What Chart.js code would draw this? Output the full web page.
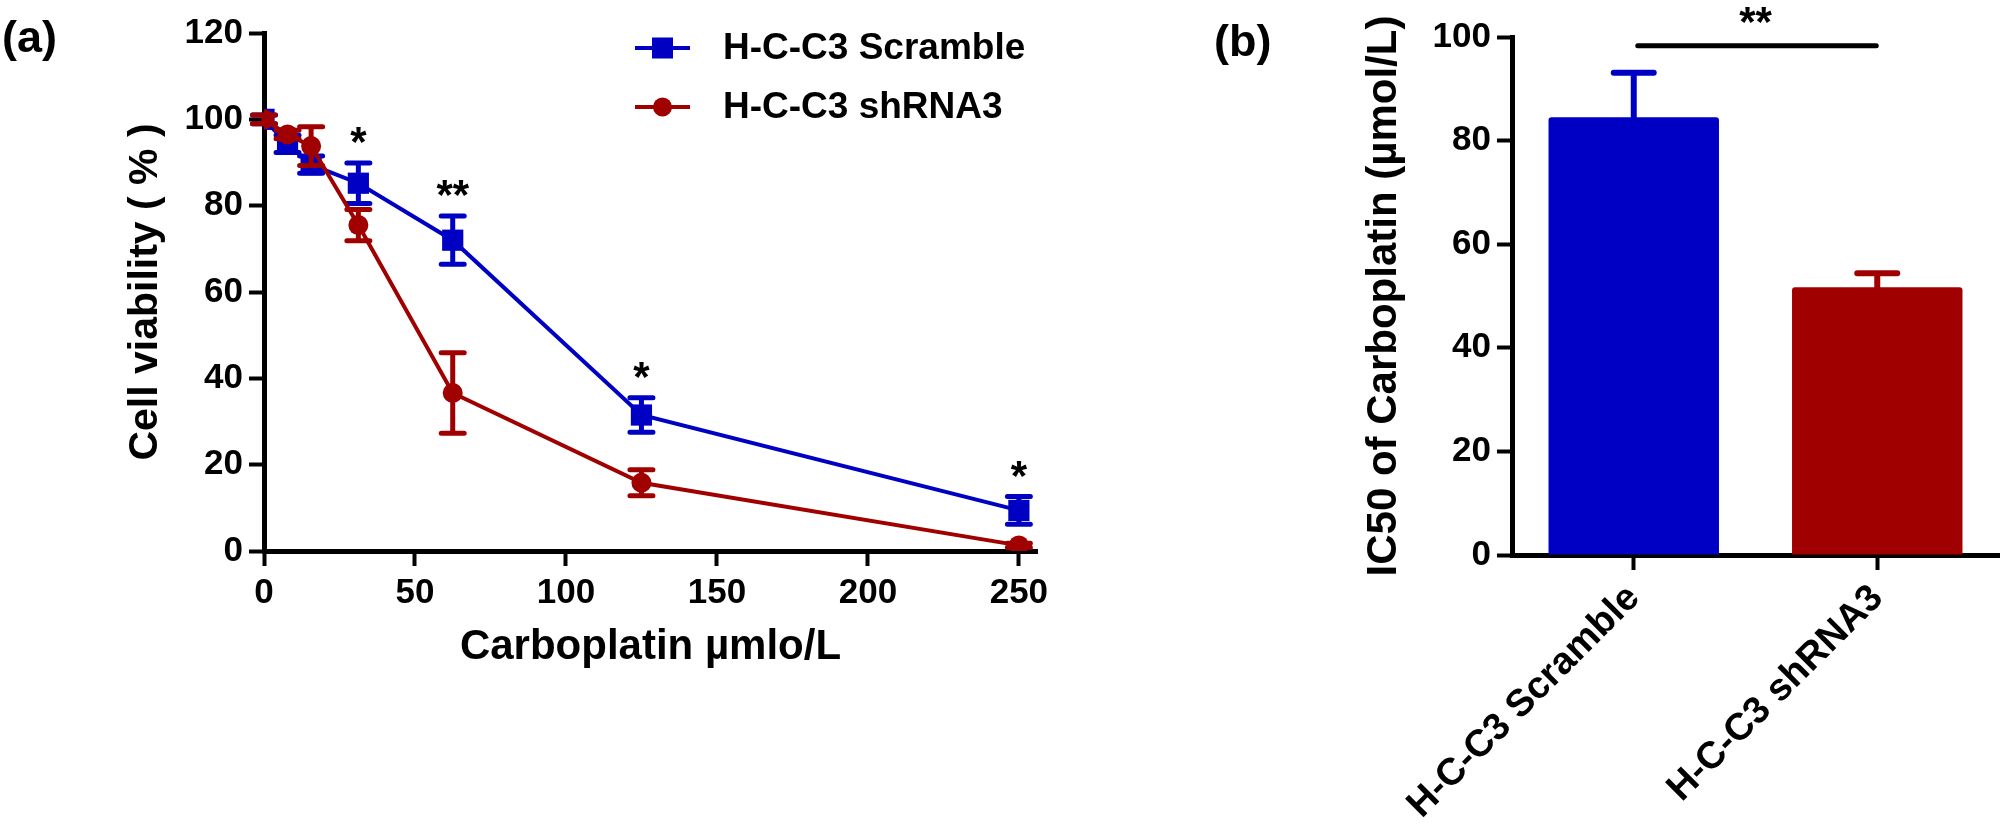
<!DOCTYPE html>
<html>
<head>
<meta charset="utf-8">
<script src="https://cdn.jsdelivr.net/npm/chart.js@4.4.1/dist/chart.umd.min.js"></script>
<style>
  html, body { margin: 0; padding: 0; background: #fff; }
  #wrap { position: relative; width: 2008px; height: 837px; }
  #chartA { position: absolute; left: 0; top: 0; }
  #chartB { position: absolute; left: 1100px; top: 0; }
</style>
</head>
<body>
<div id="wrap">
  <canvas id="chartA" width="1100" height="837"></canvas>
  <canvas id="chartB" width="908" height="837"></canvas>
</div>
<script>
// panel (a) - viability curve
const doses = [0, 7.8, 15.6, 31.25, 62.5, 125, 250]
const scrambleMean = [100, 94.3, 89.5, 85.2, 72, 31.5, 9.4]
const scrambleErr = [1, 2, 2, 4.7, 5.6, 4, 3.2]
const shrnaMean = [100, 96.5, 93.8, 75.5, 36.6, 15.8, 1.3]
const shrnaErr = [1, 1, 4.5, 3.6, 9.3, 3, 0.5]
const stars = ['', '', '', '*', '**', '*', '*']
const xTicksA = [0, 50, 100, 150, 200, 250]
const yTicksA = [0, 20, 40, 60, 80, 100, 120]

// panel (b) - IC50 bars
const groups = ['H-C-C3 Scramble', 'H-C-C3 shRNA3']
const ic50Mean = [84.5, 51.7]
const ic50Err = [8.6, 2.7]
const yTicksB = [0, 20, 40, 60, 80, 100]
const sigLineValue = 98.3

const BLUE = '#0000C4'
const RED = '#A00000'
const FONT = "'Liberation Sans', Arial, Helvetica, sans-serif"

Chart.defaults.font.family = FONT
Chart.defaults.font.weight = 'bold'
Chart.defaults.color = '#000'

const axisStyle = {
  border: { color: '#000', width: 5 },
  grid: { drawOnChartArea: false, drawTicks: true, tickLength: 15, tickWidth: 4, tickColor: '#000', offset: false }
}

// error bars for the line chart, drawn right after each dataset
const errorBarsA = {
  id: 'errorBarsA',
  afterDatasetDraw(chart, args) {
    const errs = [scrambleErr, shrnaErr][args.index]
    const means = [scrambleMean, shrnaMean][args.index]
    const color = [BLUE, RED][args.index]
    const { ctx, scales: { x, y } } = chart
    ctx.save()
    ctx.strokeStyle = color
    ctx.lineWidth = 5
    ctx.lineCap = 'round'
    doses.forEach((d, i) => {
      const px = x.getPixelForValue(d)
      const top = y.getPixelForValue(means[i] + errs[i])
      const bot = y.getPixelForValue(means[i] - errs[i])
      ctx.beginPath()
      ctx.moveTo(px, top); ctx.lineTo(px, bot)
      ctx.moveTo(px - 11.5, top); ctx.lineTo(px + 11.5, top)
      ctx.moveTo(px - 11.5, bot); ctx.lineTo(px + 11.5, bot)
      ctx.stroke()
    })
    ctx.restore()
  }
}

const decorA = {
  id: 'decorA',
  afterDraw(chart) {
    const { ctx, scales: { x, y } } = chart
    ctx.save()
    ctx.fillStyle = '#000'
    ctx.textAlign = 'center'
    ctx.textBaseline = 'alphabetic'
    ctx.font = 'bold 42px ' + FONT
    doses.forEach((d, i) => {
      if (!stars[i]) return
      const cy = y.getPixelForValue(scrambleMean[i] + scrambleErr[i]) - 31
      ctx.fillText(stars[i], x.getPixelForValue(d), cy + 24)
    })

    // legend
    const items = [
      { label: 'H-C-C3 Scramble', color: BLUE, shape: 'rect', y: 48 },
      { label: 'H-C-C3 shRNA3', color: RED, shape: 'circle', y: 107 }
    ]
    ctx.font = 'bold 37px ' + FONT
    ctx.textAlign = 'left'
    ctx.textBaseline = 'middle'
    items.forEach(it => {
      ctx.strokeStyle = it.color
      ctx.fillStyle = it.color
      ctx.lineWidth = 4
      ctx.beginPath()
      ctx.moveTo(635, it.y); ctx.lineTo(690, it.y)
      ctx.stroke()
      if (it.shape === 'rect') {
        ctx.fillRect(652, it.y - 10.5, 21, 21)
      } else {
        ctx.beginPath()
        ctx.arc(662.5, it.y, 9.5, 0, Math.PI * 2)
        ctx.fill()
      }
      ctx.fillStyle = '#000'
      ctx.fillText(it.label, 723, it.y + 1)
    })

    ctx.font = 'bold 45px ' + FONT
    ctx.textBaseline = 'alphabetic'
    ctx.fillText('(a)', 2, 52)
    ctx.restore()
  }
}

new Chart(document.getElementById('chartA'), {
  type: 'scatter',
  data: {
    datasets: [
      {
        label: 'H-C-C3 Scramble',
        data: doses.map((d, i) => ({ x: d, y: scrambleMean[i] })),
        showLine: true,
        borderColor: BLUE,
        backgroundColor: BLUE,
        borderWidth: 4,
        pointStyle: 'rect',
        pointRadius: 15,
        pointBorderWidth: 0,
        order: 1
      },
      {
        label: 'H-C-C3 shRNA3',
        data: doses.map((d, i) => ({ x: d, y: shrnaMean[i] })),
        showLine: true,
        borderColor: RED,
        backgroundColor: RED,
        borderWidth: 4,
        pointStyle: 'circle',
        pointRadius: 10,
        pointBorderWidth: 0,
        order: 0
      }
    ]
  },
  options: {
    responsive: false,
    animation: false,
    layout: { padding: { top: 33, left: 0, right: 63, bottom: 0 } },
    plugins: { legend: { display: false }, tooltip: { enabled: false } },
    scales: {
      x: {
        type: 'linear',
        min: 0,
        max: 256,
        ...axisStyle,
        afterBuildTicks: s => { s.ticks = xTicksA.map(v => ({ value: v })) },
        afterFit: s => { s.height = 286 },
        ticks: { font: { size: 35, weight: 'bold' }, padding: 6, maxRotation: 0 },
        title: { display: true, text: 'Carboplatin µmlo/L', font: { size: 42, weight: 'bold' }, padding: { top: 0, bottom: 164 } }
      },
      y: {
        min: 0,
        max: 120,
        ...axisStyle,
        afterBuildTicks: s => { s.ticks = yTicksA.map(v => ({ value: v })) },
        afterFit: s => { s.width = 264 },
        ticks: { font: { size: 35, weight: 'bold' }, padding: 6 },
        title: { display: true, text: 'Cell viability ( % )', font: { size: 41, weight: 'bold' }, padding: { top: 121, bottom: 0 } }
      }
    }
  },
  plugins: [errorBarsA, decorA]
})

const decorB = {
  id: 'decorB',
  afterDatasetsDraw(chart) {
    const { ctx, scales: { x, y } } = chart
    ctx.save()
    ctx.lineCap = 'round'
    ctx.lineWidth = 6
    groups.forEach((g, i) => {
      const px = x.getPixelForValue(i)
      const top = y.getPixelForValue(ic50Mean[i] + ic50Err[i])
      const base = y.getPixelForValue(ic50Mean[i])
      ctx.strokeStyle = [BLUE, RED][i]
      ctx.beginPath()
      ctx.moveTo(px, base); ctx.lineTo(px, top)
      ctx.moveTo(px - 20, top); ctx.lineTo(px + 20, top)
      ctx.stroke()
    })
    // significance bracket
    const ly = y.getPixelForValue(sigLineValue)
    const x0 = x.getPixelForValue(0)
    const x1 = x.getPixelForValue(1)
    ctx.strokeStyle = '#000'
    ctx.lineWidth = 5
    ctx.beginPath()
    ctx.moveTo(x0 + 4, ly); ctx.lineTo(x1 - 1, ly)
    ctx.stroke()
    ctx.fillStyle = '#000'
    ctx.textAlign = 'center'
    ctx.font = 'bold 42px ' + FONT
    ctx.fillText('**', (x0 + x1) / 2, 36)
    ctx.textAlign = 'left'
    ctx.font = 'bold 45px ' + FONT
    ctx.fillText('(b)', 114, 56)
    ctx.restore()
  }
}

new Chart(document.getElementById('chartB'), {
  type: 'bar',
  data: {
    labels: groups,
    datasets: [{
      data: ic50Mean,
      backgroundColor: [BLUE, RED],
      borderRadius: 3,
      borderSkipped: 'bottom',
      barPercentage: 0.7,
      categoryPercentage: 1.0
    }]
  },
  options: {
    responsive: false,
    animation: false,
    layout: { padding: { top: 37, left: 0, right: 9, bottom: 0 } },
    plugins: { legend: { display: false }, tooltip: { enabled: false } },
    scales: {
      x: {
        ...axisStyle,
        offset: true,
        afterFit: s => { s.height = 282 },
        ticks: { font: { size: 38, weight: 'bold' }, padding: 6, minRotation: 45, maxRotation: 45, autoSkip: false }
      },
      y: {
        min: 0,
        max: 100,
        ...axisStyle,
        afterBuildTicks: s => { s.ticks = yTicksB.map(v => ({ value: v })) },
        afterFit: s => { s.width = 412 },
        ticks: { font: { size: 35, weight: 'bold' }, padding: 6 },
        title: { display: true, text: 'IC50 of Carboplatin (µmol/L)', font: { size: 42, weight: 'bold' }, padding: { top: 259, bottom: 0 } }
      }
    }
  },
  plugins: [decorB]
})
</script>
</body>
</html>
